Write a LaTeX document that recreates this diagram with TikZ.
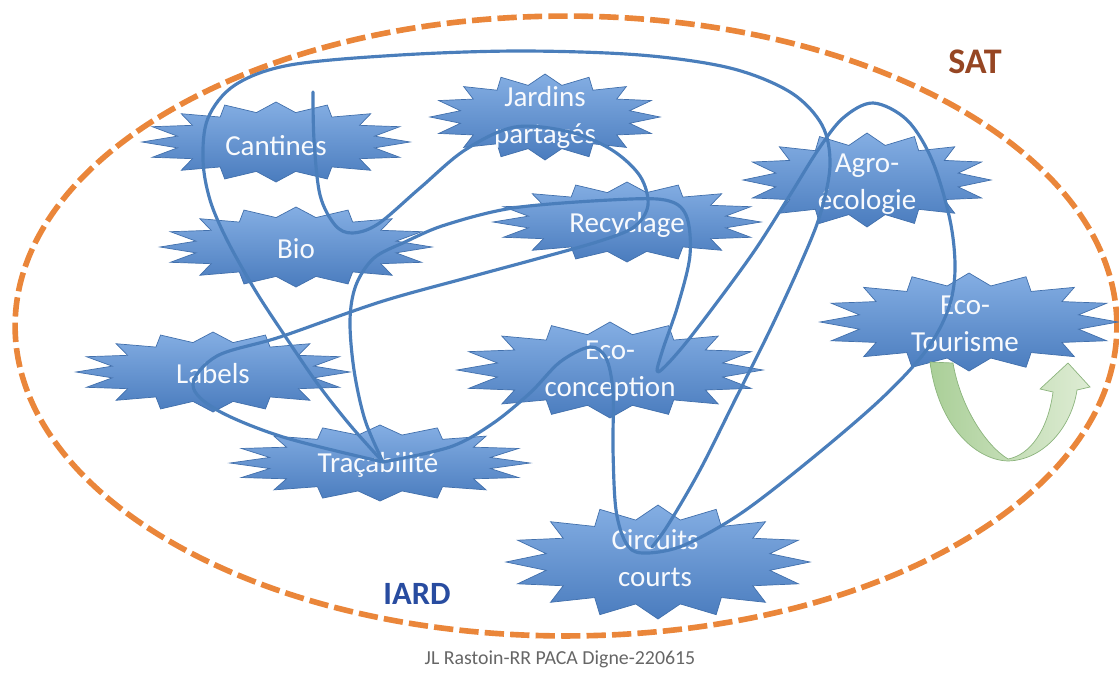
\documentclass[tikz,border=0pt]{standalone}
\usepackage{fontspec}
\setmainfont{Carlito}

\begin{document}
\begin{tikzpicture}[
        x = 0.02cm,
        y = -0.02cm
    ]

        \definecolor{burstlight}{RGB}{132,174,227}
        \definecolor{burstdark}{RGB}{74,124,190}
        \definecolor{burstedge}{RGB}{66,112,172}
        \definecolor{threadblue}{RGB}{74,126,187}
        \definecolor{rimorange}{RGB}{234,134,58}
        \definecolor{satbrown}{RGB}{150,70,35}
        \definecolor{iardblue}{RGB}{40,76,160}
        \definecolor{loopdark}{RGB}{170,207,152}
        \definecolor{looplight}{RGB}{222,236,212}
        \definecolor{loopedge}{RGB}{140,180,125}

        \tikzset{%
            burst/.style = {%
                draw         = burstedge,
                line width   = 0.4pt,
                top color    = burstlight,
                bottom color = burstdark
            },
            burstlabel/.style = {%
                text      = white!94!burstlight,
                font      = \fontsize{16.5}{21}\selectfont,
                align     = center,
                inner sep = 0pt
            },
            thread/.style = {%
                draw       = threadblue,
                line width = 1.8pt,
                line cap   = round,
                line join  = round
            }
        }

        % 16 point burst: centre x, centre y, half width, half height
        \newcommand{\burst}[4]{%
            \path[burst] ({#1 + #3}, #2)
                \foreach \k in {1,...,31} {
                    -- ({#1 + (0.875 + 0.125*cos(\k*180))*#3*cos(\k*11.25)}, {#2 + (0.875 + 0.125*cos(\k*180))*#4*sin(\k*11.25)})
                }
                -- cycle;
        }

        \useasboundingbox (0, 0) rectangle (1119, 673);

        % Outer dashed border
        \draw[
            rimorange,
            line width = 3.2pt,
            dash pattern = on 11pt off 3.5pt
        ] (566, 326) ellipse [x radius = 11.02cm, y radius = 6.2cm];

        \burst{276}{142}{134}{40}
        \burst{545}{117}{115}{43}
        \burst{296}{247}{136}{40}
        \burst{627}{222}{134}{40}
        \burst{213}{372}{137}{40}
        \burst{610}{370}{153}{48}
        \burst{380}{463}{150}{38}
        \burst{658}{562}{152}{57}
        \burst{867}{180}{124}{47}
        \burst{969}{322}{149}{49}

        \node[burstlabel] (cantines)      at (276, 146) {Cantines};
        \node[burstlabel] (jardins)       at (545, 117) {Jardins\\partagés};
        \node[burstlabel] (bio)           at (296, 249) {Bio};
        \node[burstlabel] (recyclage)     at (627, 225) {Recyclage};
        \node[burstlabel] (labels)        at (213, 374) {Labels};
        \node[burstlabel] (ecoconception) at (610, 371) {Eco-\\conception};
        \node[burstlabel] (tracabilite)   at (378, 465) {Traçabilité};
        \node[burstlabel] (circuits)      at (655, 558) {Circuits\\courts};
        \node[burstlabel] (agro)          at (867, 184) {Agro-\\écologie};
        \node[burstlabel] (ecotourisme)   at (965, 324) {Eco-\\Tourisme};

        % Green U-turn arrow
        \path[
            left color  = loopdark,
            right color = looplight,
            draw        = loopedge,
            line width  = 0.4pt
        ] (930, 362) .. controls (938, 425) and (975, 460) .. (1008, 461)
            .. controls (1045, 460) and (1072, 425) .. (1077, 390)
            -- (1090, 387) -- (1068, 363) -- (1040, 389) -- (1053, 392)
            .. controls (1048, 430) and (1030, 455) .. (1008, 459)
            .. controls (985, 445) and (960, 405) .. (953, 363)
            -- cycle;

        % The tangled thread
        \draw[thread] plot[smooth, tension = 0.55] coordinates {%
            (313,92) (314,140) (320,195) (335,225) (352,233) (378,224) (420,188)
            (465,150) (515,127) (570,132) (612,150) (640,176) (648,205) (634,227)
            (600,241) (540,258) (470,277) (380,302) (280,337) (217,356) (193,385)
            (217,410) (283,437) (383,462)};

        \draw[thread] plot[smooth, tension = 0.55] coordinates {%
            (383,462) (350,425) (317,383) (283,333) (255,290) (227,240) (210,200)
            (203,160) (208,118) (235,85) (290,65) (400,55) (520,51) (640,55)
            (730,68) (790,92) (822,125) (830,165) (820,215) (800,265) (770,330)
            (735,400) (700,470) (668,525) (652,547)};

        \draw[thread] plot[smooth, tension = 0.55] coordinates {%
            (383,462) (450,447) (492,424) (530,393) (560,362) (590,347) (606,358)
            (613,392) (613,450) (616,510) (626,543) (642,553) (682,546) (740,514)
            (810,460) (880,400) (925,352) (948,310) (955,270) (950,220) (932,160)
            (907,120) (873,103) (843,118) (818,150) (790,195) (755,250) (715,305)
            (680,350) (658,372) (662,352) (678,305) (690,255) (686,215) (665,200)
            (610,200) (513,208) (445,225) (405,242) (374,258) (356,285) (350,320)
            (354,370) (365,420) (383,462)};

        \node[text = satbrown, font = \fontsize{20.5}{24}\selectfont\bfseries] (sat) at (975, 62) {SAT};
        \node[text = iardblue, font = \fontsize{18.5}{22}\selectfont\bfseries] (iard) at (417, 594) {IARD};
        \node[text = black!60, font = \fontsize{11.3}{14}\selectfont] (credit) at (560, 659) {JL Rastoin-RR PACA Digne-220615};

    \end{tikzpicture}
\end{document}
